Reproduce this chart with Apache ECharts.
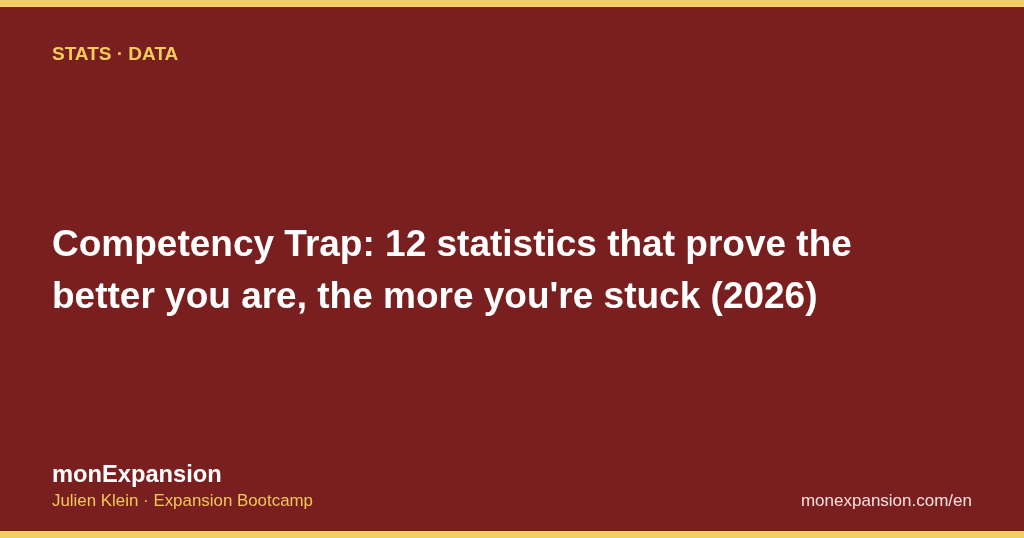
<!DOCTYPE html>
<html>
<head>
<meta charset="utf-8">
<style>
  html, body { margin: 0; padding: 0; background: #7a1f1f; }
  #main { width: 1024px; height: 538px; }
</style>
<script src="https://cdn.jsdelivr.net/npm/echarts@6/dist/echarts.min.js"></script>
</head>
<body>
<div id="main"></div>
<script>
// texts of the card
var kicker = 'STATS · DATA';
var titleLines = ['Competency Trap: 12 statistics that prove the', 'better you are, the more you\'re stuck (2026)'];
var brand = 'monExpansion';
var byline = 'Julien Klein · Expansion Bootcamp';
var siteUrl = 'monexpansion.com/en';

var font = '"Liberation Sans", Arial, sans-serif';
var yellow = '#f3cf63';
var chart = echarts.init(document.getElementById('main'));

var option = {
    backgroundColor: '#7a1f1f',
    graphic: [
        // yellow bands top and bottom
        { type: 'rect', left: 0, top: 0, shape: { width: 1024, height: 7 }, style: { fill: yellow } },
        { type: 'rect', left: 0, bottom: 0, shape: { width: 1024, height: 7 }, style: { fill: yellow } },
        {
            type: 'text', left: 52, top: 45,
            style: { text: kicker, font: 'bold 19px ' + font, lineHeight: 19, fill: '#f5cc5c' }
        },
        {
            type: 'text', left: 52, top: 220,
            style: { text: titleLines.join('\n'), font: 'bold 37px ' + font, lineHeight: 52, fill: '#ffffff' }
        },
        {
            type: 'text', left: 52, top: 463,
            style: { text: brand, font: 'bold 23.7px ' + font, lineHeight: 24, fill: '#ffffff' }
        },
        {
            type: 'text', left: 52, top: 493,
            style: { text: byline, font: '16.9px ' + font, lineHeight: 17, fill: '#f2c85e' }
        },
        {
            type: 'text', right: 52, top: 493,
            style: { text: siteUrl, font: '17px ' + font, lineHeight: 17, fill: '#f5e0df' }
        }
    ]
};
chart.setOption(option);
</script>
</body>
</html>
